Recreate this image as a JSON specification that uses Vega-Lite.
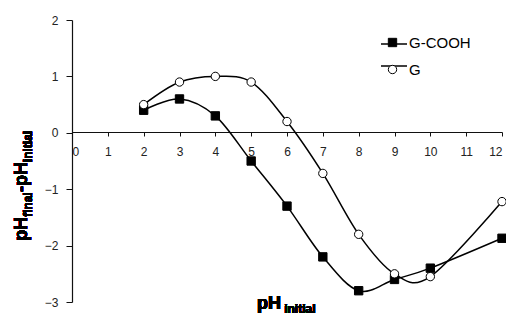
{
  "$schema": "https://vega.github.io/schema/vega-lite/v6.json",
  "autosize": {"type": "none"},
  "padding": {"left": 72, "top": 20, "right": 4, "bottom": 16},
  "width": 430,
  "height": 282,
  "background": "white",
  "config": {
    "view": {"stroke": null},
    "font": "Liberation Sans",
    "axis": {"grid": false, "domainColor": "#111", "tickColor": "#111", "labelColor": "#222", "labelFont": "Liberation Sans", "labelFontSize": 12, "domainWidth": 1.2, "tickWidth": 1}
  },
  "data": {
    "values": [
      {"pH": 2, "d": 0.4, "series": "G-COOH"},
      {"pH": 3, "d": 0.6, "series": "G-COOH"},
      {"pH": 4, "d": 0.3, "series": "G-COOH"},
      {"pH": 5, "d": -0.5, "series": "G-COOH"},
      {"pH": 6, "d": -1.3, "series": "G-COOH"},
      {"pH": 7, "d": -2.2, "series": "G-COOH"},
      {"pH": 8, "d": -2.8, "series": "G-COOH"},
      {"pH": 9, "d": -2.6, "series": "G-COOH"},
      {"pH": 10, "d": -2.4, "series": "G-COOH"},
      {"pH": 12, "d": -1.87, "series": "G-COOH"},
      {"pH": 2, "d": 0.5, "series": "G"},
      {"pH": 3, "d": 0.9, "series": "G"},
      {"pH": 4, "d": 1.0, "series": "G"},
      {"pH": 5, "d": 0.9, "series": "G"},
      {"pH": 6, "d": 0.2, "series": "G"},
      {"pH": 7, "d": -0.72, "series": "G"},
      {"pH": 8, "d": -1.8, "series": "G"},
      {"pH": 9, "d": -2.5, "series": "G"},
      {"pH": 10, "d": -2.55, "series": "G"},
      {"pH": 12, "d": -1.22, "series": "G"}
    ]
  },
  "encoding": {
    "x": {"field": "pH", "type": "quantitative", "scale": {"domain": [0, 12], "nice": false},
      "axis": {"title": null, "offset": -170, "values": [0,1,2,3,4,5,6,7,8,9,10,11,12], "tickSize": 4, "labelPadding": 10}},
    "y": {"field": "d", "type": "quantitative", "scale": {"domain": [-3, 2], "nice": false},
      "axis": {"title": null, "values": [-3,-2,-1,0,1,2], "tickSize": 6, "labelPadding": 8}}
  },
  "layer": [
    {
      "mark": {"type": "line", "strokeWidth": 1.5, "interpolate": "cardinal", "tension": 0},
      "encoding": {
        "stroke": {"field": "series", "type": "nominal", "sort": ["G-COOH", "G"], "scale": {"range": ["black", "black"]},
          "legend": {"title": null, "orient": "none", "legendX": 308, "legendY": 10, "padding": 0, "symbolType": "stroke", "symbolSize": 676, "symbolStrokeWidth": 1.5, "symbolStrokeColor": "black", "labelFontSize": 15, "labelExpr": "''", "labelOffset": 3, "rowPadding": 0}}
      }
    },
    {
      "mark": {"type": "point", "filled": true, "stroke": "black", "strokeWidth": 1, "opacity": 1, "size": 70},
      "encoding": {
        "shape": {"field": "series", "type": "nominal", "scale": {"domain": ["G-COOH", "G"], "range": ["square", "circle"]},
          "legend": {"title": null, "orient": "none", "legendX": 313, "legendY": 15, "padding": 0, "symbolSize": 70, "symbolStrokeWidth": 1, "symbolStrokeColor": "black", "labelFontSize": 15, "labelColor": "black", "labelFont": "Liberation Sans", "labelOffset": 9, "rowPadding": 11}},
        "color": {"field": "series", "type": "nominal", "scale": {"domain": ["G-COOH", "G"], "range": ["black", "white"]},
          "legend": {"title": null, "orient": "none", "legendX": 313, "legendY": 15, "padding": 0, "symbolSize": 70, "symbolStrokeWidth": 1, "symbolStrokeColor": "black", "labelFontSize": 15, "labelColor": "black", "labelFont": "Liberation Sans", "labelOffset": 9, "rowPadding": 11}}
      }
    },
    {
      "mark": {"type": "text", "text": "pH", "angle": 270, "align": "left", "baseline": "alphabetic", "fontWeight": "bold", "fontSize": 18, "color": "black"},
      "encoding": {"x": {"datum": -1.256}, "y": {"datum": -1.915}}
    },
    {
      "mark": {"type": "text", "text": "final", "angle": 270, "align": "left", "baseline": "alphabetic", "fontWeight": "bold", "fontSize": 12, "color": "black"},
      "encoding": {"x": {"datum": -1.11}, "y": {"datum": -1.49}}
    },
    {
      "mark": {"type": "text", "text": "-pH", "angle": 270, "align": "left", "baseline": "alphabetic", "fontWeight": "bold", "fontSize": 18, "color": "black"},
      "encoding": {"x": {"datum": -1.256}, "y": {"datum": -1.05}}
    },
    {
      "mark": {"type": "text", "text": "initial", "angle": 270, "align": "left", "baseline": "alphabetic", "fontWeight": "bold", "fontSize": 12, "color": "black"},
      "encoding": {"x": {"datum": -1.11}, "y": {"datum": -0.52}}
    },
    {
      "mark": {"type": "text", "text": "pH", "align": "left", "baseline": "alphabetic", "fontWeight": "bold", "fontSize": 18, "color": "black"},
      "encoding": {"x": {"datum": 5.16}, "y": {"datum": -3.12}}
    },
    {
      "mark": {"type": "text", "text": "initial", "align": "left", "baseline": "alphabetic", "fontWeight": "bold", "fontSize": 12, "color": "black"},
      "encoding": {"x": {"datum": 5.92}, "y": {"datum": -3.2}}
    }
  ]
}
